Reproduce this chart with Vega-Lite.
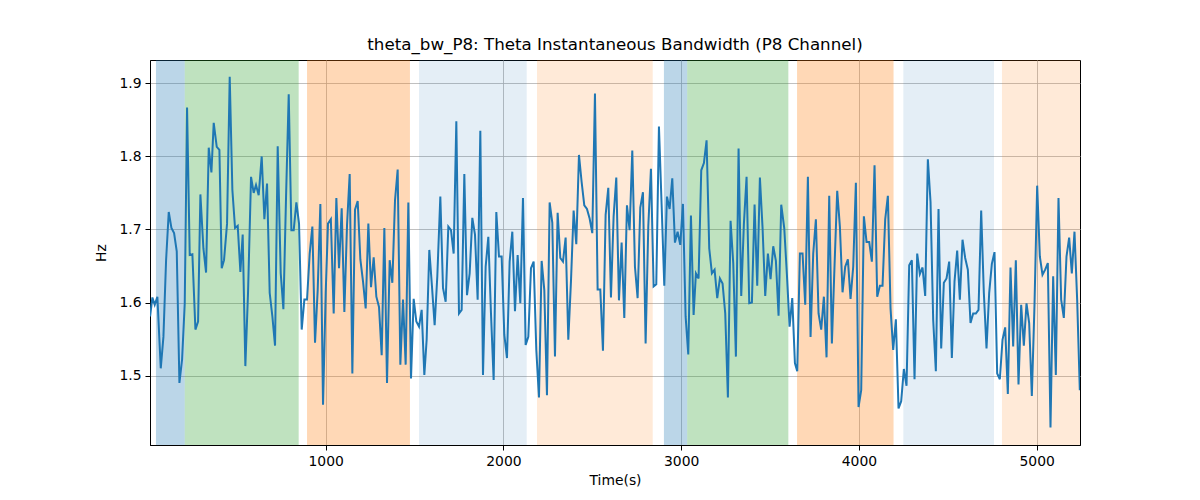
{
  "$schema": "https://vega.github.io/schema/vega-lite/v6.json",
  "width": 930,
  "height": 385,
  "autosize": "none",
  "padding": {"left": 150, "top": 60, "right": 120, "bottom": 55},
  "background": "white",
  "config": {
    "font": "DejaVu Sans",
    "view": {"stroke": "black", "strokeWidth": 1},
    "axis": {
      "labelFont": "DejaVu Sans", "labelFontSize": 13.9, "labelColor": "black",
      "titleFont": "DejaVu Sans", "titleFontSize": 13.9, "titleFontWeight": "normal", "titleColor": "black",
      "tickColor": "black", "tickSize": 5, "tickWidth": 1, "domainColor": "black", "domainWidth": 1,
      "gridColor": "#b0b0b0", "gridWidth": 0.8, "labelPadding": 4
    }
  },
  "title": {"text": "theta_bw_P8: Theta Instantaneous Bandwidth (P8 Channel)", "font": "DejaVu Sans", "fontSize": 16.7, "fontWeight": "normal", "color": "black", "anchor": "middle", "offset": 6},
  "datasets": {
    "bands": [
      {"start": 45, "end": 207, "stage": "s1"},
      {"start": 207, "end": 848, "stage": "s2"},
      {"start": 895, "end": 1474, "stage": "s3"},
      {"start": 1525, "end": 2131, "stage": "s4"},
      {"start": 2189, "end": 2840, "stage": "s5"},
      {"start": 2903, "end": 3034, "stage": "s1"},
      {"start": 3034, "end": 3603, "stage": "s2"},
      {"start": 3652, "end": 4195, "stage": "s3"},
      {"start": 4250, "end": 4760, "stage": "s4"},
      {"start": 4805, "end": 5300, "stage": "s5"}
    ],
    "series": [
      {"t": 12, "v": 1.581}, {"t": 25, "v": 1.607}, {"t": 38, "v": 1.597}, {"t": 53, "v": 1.608},
      {"t": 72, "v": 1.510}, {"t": 87, "v": 1.553}, {"t": 102, "v": 1.658}, {"t": 117, "v": 1.724},
      {"t": 132, "v": 1.702}, {"t": 147, "v": 1.695}, {"t": 162, "v": 1.670}, {"t": 177, "v": 1.490},
      {"t": 192, "v": 1.522}, {"t": 207, "v": 1.599}, {"t": 220, "v": 1.867}, {"t": 235, "v": 1.665},
      {"t": 250, "v": 1.666}, {"t": 267, "v": 1.563}, {"t": 282, "v": 1.574}, {"t": 295, "v": 1.748},
      {"t": 312, "v": 1.674}, {"t": 327, "v": 1.641}, {"t": 342, "v": 1.812}, {"t": 357, "v": 1.778},
      {"t": 370, "v": 1.846}, {"t": 387, "v": 1.813}, {"t": 402, "v": 1.809}, {"t": 415, "v": 1.647},
      {"t": 428, "v": 1.658}, {"t": 445, "v": 1.708}, {"t": 460, "v": 1.909}, {"t": 475, "v": 1.754},
      {"t": 490, "v": 1.702}, {"t": 505, "v": 1.705}, {"t": 520, "v": 1.642}, {"t": 533, "v": 1.693},
      {"t": 548, "v": 1.513}, {"t": 563, "v": 1.613}, {"t": 580, "v": 1.772}, {"t": 595, "v": 1.750},
      {"t": 608, "v": 1.761}, {"t": 623, "v": 1.747}, {"t": 640, "v": 1.800}, {"t": 655, "v": 1.714},
      {"t": 670, "v": 1.763}, {"t": 685, "v": 1.613}, {"t": 700, "v": 1.581}, {"t": 715, "v": 1.541},
      {"t": 730, "v": 1.814}, {"t": 747, "v": 1.640}, {"t": 762, "v": 1.591}, {"t": 777, "v": 1.745},
      {"t": 792, "v": 1.885}, {"t": 807, "v": 1.699}, {"t": 820, "v": 1.699}, {"t": 835, "v": 1.737},
      {"t": 850, "v": 1.708}, {"t": 865, "v": 1.563}, {"t": 880, "v": 1.604}, {"t": 895, "v": 1.604},
      {"t": 910, "v": 1.667}, {"t": 925, "v": 1.704}, {"t": 940, "v": 1.545}, {"t": 955, "v": 1.617},
      {"t": 970, "v": 1.735}, {"t": 985, "v": 1.460}, {"t": 1000, "v": 1.613}, {"t": 1013, "v": 1.708},
      {"t": 1029, "v": 1.714}, {"t": 1045, "v": 1.585}, {"t": 1060, "v": 1.743}, {"t": 1075, "v": 1.647},
      {"t": 1090, "v": 1.729}, {"t": 1105, "v": 1.587}, {"t": 1120, "v": 1.706}, {"t": 1135, "v": 1.776},
      {"t": 1150, "v": 1.503}, {"t": 1165, "v": 1.727}, {"t": 1180, "v": 1.739}, {"t": 1195, "v": 1.659},
      {"t": 1210, "v": 1.629}, {"t": 1225, "v": 1.592}, {"t": 1240, "v": 1.708}, {"t": 1255, "v": 1.621},
      {"t": 1270, "v": 1.662}, {"t": 1285, "v": 1.608}, {"t": 1300, "v": 1.594}, {"t": 1315, "v": 1.528},
      {"t": 1330, "v": 1.702}, {"t": 1345, "v": 1.490}, {"t": 1360, "v": 1.658}, {"t": 1375, "v": 1.627},
      {"t": 1390, "v": 1.740}, {"t": 1405, "v": 1.782}, {"t": 1420, "v": 1.515}, {"t": 1435, "v": 1.604},
      {"t": 1450, "v": 1.515}, {"t": 1465, "v": 1.737}, {"t": 1480, "v": 1.496}, {"t": 1495, "v": 1.605},
      {"t": 1510, "v": 1.574}, {"t": 1525, "v": 1.567}, {"t": 1540, "v": 1.590}, {"t": 1555, "v": 1.501},
      {"t": 1568, "v": 1.549}, {"t": 1583, "v": 1.672}, {"t": 1598, "v": 1.622}, {"t": 1613, "v": 1.569},
      {"t": 1628, "v": 1.636}, {"t": 1645, "v": 1.745}, {"t": 1660, "v": 1.620}, {"t": 1675, "v": 1.601},
      {"t": 1690, "v": 1.704}, {"t": 1705, "v": 1.699}, {"t": 1720, "v": 1.667}, {"t": 1735, "v": 1.848},
      {"t": 1750, "v": 1.585}, {"t": 1765, "v": 1.590}, {"t": 1780, "v": 1.776}, {"t": 1795, "v": 1.610},
      {"t": 1810, "v": 1.640}, {"t": 1825, "v": 1.716}, {"t": 1840, "v": 1.693}, {"t": 1855, "v": 1.604},
      {"t": 1870, "v": 1.835}, {"t": 1885, "v": 1.501}, {"t": 1900, "v": 1.649}, {"t": 1915, "v": 1.690},
      {"t": 1930, "v": 1.585}, {"t": 1945, "v": 1.494}, {"t": 1960, "v": 1.724}, {"t": 1975, "v": 1.663},
      {"t": 1990, "v": 1.663}, {"t": 2005, "v": 1.556}, {"t": 2020, "v": 1.524}, {"t": 2035, "v": 1.656},
      {"t": 2050, "v": 1.697}, {"t": 2065, "v": 1.588}, {"t": 2080, "v": 1.665}, {"t": 2095, "v": 1.599},
      {"t": 2110, "v": 1.743}, {"t": 2125, "v": 1.542}, {"t": 2140, "v": 1.553}, {"t": 2155, "v": 1.647},
      {"t": 2170, "v": 1.656}, {"t": 2185, "v": 1.535}, {"t": 2200, "v": 1.470}, {"t": 2215, "v": 1.657},
      {"t": 2230, "v": 1.617}, {"t": 2245, "v": 1.473}, {"t": 2260, "v": 1.737}, {"t": 2275, "v": 1.709},
      {"t": 2290, "v": 1.526}, {"t": 2305, "v": 1.723}, {"t": 2320, "v": 1.661}, {"t": 2335, "v": 1.656},
      {"t": 2350, "v": 1.689}, {"t": 2365, "v": 1.549}, {"t": 2380, "v": 1.629}, {"t": 2395, "v": 1.726},
      {"t": 2410, "v": 1.680}, {"t": 2425, "v": 1.802}, {"t": 2440, "v": 1.765}, {"t": 2455, "v": 1.733},
      {"t": 2470, "v": 1.728}, {"t": 2485, "v": 1.715}, {"t": 2500, "v": 1.695}, {"t": 2515, "v": 1.886},
      {"t": 2530, "v": 1.618}, {"t": 2545, "v": 1.618}, {"t": 2560, "v": 1.534}, {"t": 2575, "v": 1.720},
      {"t": 2590, "v": 1.757}, {"t": 2605, "v": 1.607}, {"t": 2620, "v": 1.718}, {"t": 2635, "v": 1.771},
      {"t": 2650, "v": 1.603}, {"t": 2665, "v": 1.682}, {"t": 2680, "v": 1.579}, {"t": 2695, "v": 1.733},
      {"t": 2710, "v": 1.699}, {"t": 2725, "v": 1.808}, {"t": 2740, "v": 1.649}, {"t": 2755, "v": 1.606},
      {"t": 2770, "v": 1.730}, {"t": 2785, "v": 1.751}, {"t": 2800, "v": 1.544}, {"t": 2815, "v": 1.704},
      {"t": 2830, "v": 1.783}, {"t": 2845, "v": 1.622}, {"t": 2860, "v": 1.625}, {"t": 2875, "v": 1.841},
      {"t": 2890, "v": 1.734}, {"t": 2905, "v": 1.623}, {"t": 2920, "v": 1.745}, {"t": 2935, "v": 1.728},
      {"t": 2950, "v": 1.770}, {"t": 2965, "v": 1.682}, {"t": 2980, "v": 1.697}, {"t": 2995, "v": 1.679},
      {"t": 3010, "v": 1.735}, {"t": 3025, "v": 1.581}, {"t": 3040, "v": 1.529}, {"t": 3055, "v": 1.719},
      {"t": 3070, "v": 1.583}, {"t": 3083, "v": 1.640}, {"t": 3098, "v": 1.633}, {"t": 3113, "v": 1.781},
      {"t": 3128, "v": 1.791}, {"t": 3143, "v": 1.822}, {"t": 3158, "v": 1.674}, {"t": 3173, "v": 1.640},
      {"t": 3188, "v": 1.645}, {"t": 3203, "v": 1.606}, {"t": 3218, "v": 1.633}, {"t": 3233, "v": 1.626},
      {"t": 3248, "v": 1.585}, {"t": 3263, "v": 1.470}, {"t": 3278, "v": 1.712}, {"t": 3293, "v": 1.654},
      {"t": 3308, "v": 1.526}, {"t": 3323, "v": 1.811}, {"t": 3338, "v": 1.609}, {"t": 3353, "v": 1.708},
      {"t": 3368, "v": 1.772}, {"t": 3383, "v": 1.599}, {"t": 3398, "v": 1.600}, {"t": 3413, "v": 1.734},
      {"t": 3428, "v": 1.623}, {"t": 3443, "v": 1.771}, {"t": 3458, "v": 1.702}, {"t": 3473, "v": 1.609},
      {"t": 3488, "v": 1.667}, {"t": 3503, "v": 1.632}, {"t": 3518, "v": 1.677}, {"t": 3533, "v": 1.657},
      {"t": 3548, "v": 1.582}, {"t": 3563, "v": 1.734}, {"t": 3580, "v": 1.702}, {"t": 3595, "v": 1.638},
      {"t": 3610, "v": 1.567}, {"t": 3625, "v": 1.606}, {"t": 3640, "v": 1.517}, {"t": 3653, "v": 1.506},
      {"t": 3668, "v": 1.667}, {"t": 3683, "v": 1.667}, {"t": 3698, "v": 1.597}, {"t": 3713, "v": 1.772},
      {"t": 3728, "v": 1.553}, {"t": 3743, "v": 1.667}, {"t": 3758, "v": 1.714}, {"t": 3773, "v": 1.585},
      {"t": 3788, "v": 1.563}, {"t": 3803, "v": 1.608}, {"t": 3818, "v": 1.525}, {"t": 3833, "v": 1.746},
      {"t": 3848, "v": 1.544}, {"t": 3863, "v": 1.651}, {"t": 3878, "v": 1.753}, {"t": 3893, "v": 1.704},
      {"t": 3908, "v": 1.614}, {"t": 3923, "v": 1.649}, {"t": 3938, "v": 1.659}, {"t": 3953, "v": 1.605},
      {"t": 3968, "v": 1.649}, {"t": 3983, "v": 1.764}, {"t": 3998, "v": 1.457}, {"t": 4013, "v": 1.480},
      {"t": 4028, "v": 1.718}, {"t": 4043, "v": 1.683}, {"t": 4058, "v": 1.683}, {"t": 4073, "v": 1.656},
      {"t": 4088, "v": 1.788}, {"t": 4103, "v": 1.608}, {"t": 4118, "v": 1.623}, {"t": 4133, "v": 1.623},
      {"t": 4148, "v": 1.714}, {"t": 4163, "v": 1.746}, {"t": 4178, "v": 1.592}, {"t": 4193, "v": 1.535},
      {"t": 4208, "v": 1.577}, {"t": 4223, "v": 1.455}, {"t": 4238, "v": 1.465}, {"t": 4253, "v": 1.509},
      {"t": 4268, "v": 1.486}, {"t": 4283, "v": 1.651}, {"t": 4298, "v": 1.658}, {"t": 4313, "v": 1.495},
      {"t": 4328, "v": 1.667}, {"t": 4343, "v": 1.639}, {"t": 4358, "v": 1.648}, {"t": 4373, "v": 1.609},
      {"t": 4388, "v": 1.796}, {"t": 4403, "v": 1.738}, {"t": 4418, "v": 1.576}, {"t": 4433, "v": 1.506},
      {"t": 4448, "v": 1.728}, {"t": 4463, "v": 1.537}, {"t": 4478, "v": 1.627}, {"t": 4493, "v": 1.633},
      {"t": 4508, "v": 1.656}, {"t": 4523, "v": 1.524}, {"t": 4538, "v": 1.629}, {"t": 4553, "v": 1.671},
      {"t": 4568, "v": 1.604}, {"t": 4583, "v": 1.686}, {"t": 4598, "v": 1.661}, {"t": 4613, "v": 1.645},
      {"t": 4628, "v": 1.572}, {"t": 4643, "v": 1.585}, {"t": 4658, "v": 1.585}, {"t": 4673, "v": 1.590},
      {"t": 4688, "v": 1.726}, {"t": 4703, "v": 1.613}, {"t": 4718, "v": 1.537}, {"t": 4733, "v": 1.613},
      {"t": 4748, "v": 1.653}, {"t": 4763, "v": 1.669}, {"t": 4778, "v": 1.503}, {"t": 4793, "v": 1.495},
      {"t": 4808, "v": 1.549}, {"t": 4823, "v": 1.566}, {"t": 4838, "v": 1.475}, {"t": 4853, "v": 1.648},
      {"t": 4868, "v": 1.540}, {"t": 4883, "v": 1.658}, {"t": 4898, "v": 1.488}, {"t": 4913, "v": 1.597},
      {"t": 4928, "v": 1.541}, {"t": 4943, "v": 1.599}, {"t": 4958, "v": 1.572}, {"t": 4973, "v": 1.472},
      {"t": 4988, "v": 1.597}, {"t": 5003, "v": 1.760}, {"t": 5018, "v": 1.663}, {"t": 5033, "v": 1.638},
      {"t": 5048, "v": 1.645}, {"t": 5063, "v": 1.654}, {"t": 5078, "v": 1.429}, {"t": 5093, "v": 1.636},
      {"t": 5108, "v": 1.501}, {"t": 5123, "v": 1.743}, {"t": 5138, "v": 1.604}, {"t": 5153, "v": 1.579},
      {"t": 5168, "v": 1.663}, {"t": 5183, "v": 1.689}, {"t": 5198, "v": 1.640}, {"t": 5213, "v": 1.697},
      {"t": 5228, "v": 1.604}, {"t": 5243, "v": 1.480}
    ]
  },
  "layer": [
    {
      "data": {"name": "bands"},
      "mark": {"type": "rect", "clip": true},
      "encoding": {
        "x": {"field": "start", "type": "quantitative", "scale": {"domain": [11.5, 5244], "nice": false, "zero": false}},
        "x2": {"field": "end"},
        "color": {
          "field": "stage", "type": "nominal", "legend": null,
          "scale": {"domain": ["s1", "s2", "s3", "s4", "s5"],
                    "range": ["rgba(31,119,180,0.3)", "rgba(44,160,44,0.3)", "rgba(255,127,14,0.3)", "rgba(31,119,180,0.12)", "rgba(255,127,14,0.16)"]}
        }
      }
    },
    {
      "data": {"name": "series"},
      "mark": {"type": "line", "color": "#1f77b4", "strokeWidth": 2, "clip": true},
      "encoding": {
        "x": {"field": "t", "type": "quantitative", "title": "Time(s)",
              "scale": {"domain": [11.5, 5244], "nice": false, "zero": false},
              "axis": {"values": [1000, 2000, 3000, 4000, 5000], "format": "d", "grid": true, "titlePadding": 6}},
        "y": {"field": "v", "type": "quantitative", "title": "Hz",
              "scale": {"domain": [1.405, 1.932], "nice": false, "zero": false},
              "axis": {"values": [1.5, 1.6, 1.7, 1.8, 1.9], "format": ".1f", "grid": true, "titlePadding": 10}}
      }
    }
  ]
}
